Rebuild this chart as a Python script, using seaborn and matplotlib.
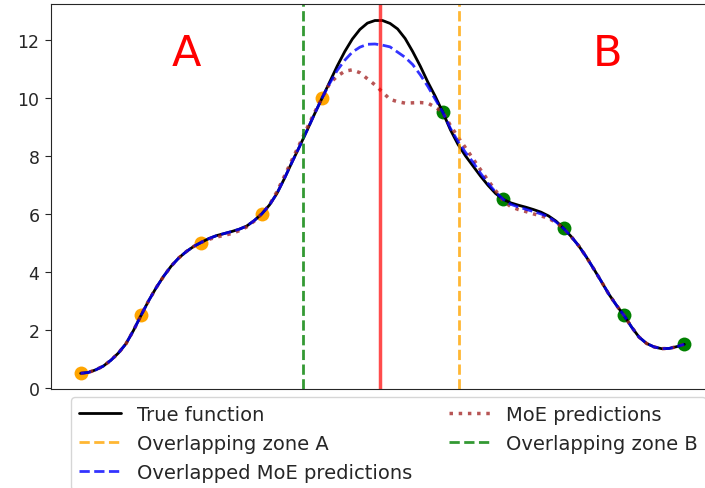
import matplotlib
matplotlib.use("Agg")
import matplotlib.pyplot as plt
import seaborn as sns

# training points of the two experts
x_a = [0, 1, 2, 3, 4]
y_a = [0.5, 2.5, 5.0, 6.0, 10.0]
x_b = [6, 7, 8, 9, 10]
y_b = [9.5, 6.5, 5.5, 2.5, 1.5]

x_grid = [0.0, 0.125, 0.25, 0.375, 0.5, 0.625, 0.75, 0.875,
          1.0, 1.125, 1.25, 1.375, 1.5, 1.625, 1.75, 1.875,
          2.0, 2.125, 2.25, 2.375, 2.5, 2.625, 2.75, 2.875,
          3.0, 3.125, 3.25, 3.375, 3.5, 3.625, 3.75, 3.875,
          4.0, 4.125, 4.25, 4.375, 4.5, 4.625, 4.75, 4.875,
          5.0, 5.125, 5.25, 5.375, 5.5, 5.625, 5.75, 5.875,
          6.0, 6.125, 6.25, 6.375, 6.5, 6.625, 6.75, 6.875,
          7.0, 7.125, 7.25, 7.375, 7.5, 7.625, 7.75, 7.875,
          8.0, 8.125, 8.25, 8.375, 8.5, 8.625, 8.75, 8.875,
          9.0, 9.125, 9.25, 9.375, 9.5, 9.625, 9.75, 9.875,
          10.0]
y_true = [0.50, 0.53, 0.62, 0.75, 0.95, 1.20, 1.52, 1.98,
          2.50, 3.00, 3.45, 3.85, 4.20, 4.48, 4.70, 4.88,
          5.02, 5.15, 5.25, 5.32, 5.39, 5.47, 5.58, 5.77,
          6.00, 6.30, 6.70, 7.22, 7.78, 8.32, 8.88, 9.45,
          10.00, 10.55, 11.10, 11.60, 12.03, 12.36, 12.58, 12.67,
          12.67, 12.57, 12.38, 12.05, 11.60, 11.10, 10.55, 10.05,
          9.50, 8.90, 8.40, 8.00, 7.65, 7.30, 6.98, 6.70,
          6.50, 6.38, 6.30, 6.23, 6.15, 6.06, 5.93, 5.75,
          5.50, 5.22, 4.90, 4.52, 4.10, 3.67, 3.23, 2.85,
          2.50, 2.10, 1.75, 1.53, 1.41, 1.35, 1.36, 1.42,
          1.50]
y_overlap = [0.50, 0.53, 0.62, 0.75, 0.95, 1.20, 1.52, 1.98,
             2.50, 3.00, 3.45, 3.85, 4.20, 4.48, 4.70, 4.88,
             5.02, 5.15, 5.25, 5.32, 5.39, 5.47, 5.58, 5.77,
             6.00, 6.30, 6.70, 7.22, 7.78, 8.32, 8.88, 9.45,
             10.00, 10.50, 10.95, 11.30, 11.58, 11.75, 11.85, 11.86,
             11.82, 11.76, 11.58, 11.40, 11.15, 10.80, 10.40, 9.95,
             9.50, 8.95, 8.50, 8.12, 7.78, 7.40, 7.05, 6.75,
             6.50, 6.33, 6.24, 6.16, 6.08, 6.00, 5.90, 5.72,
             5.50, 5.22, 4.90, 4.52, 4.10, 3.67, 3.23, 2.85,
             2.50, 2.10, 1.75, 1.53, 1.41, 1.35, 1.36, 1.42,
             1.50]
y_moe = [0.50, 0.53, 0.62, 0.75, 0.95, 1.20, 1.52, 1.98,
         2.50, 3.00, 3.45, 3.85, 4.20, 4.48, 4.70, 4.88,
         5.02, 5.12, 5.20, 5.26, 5.32, 5.42, 5.55, 5.75,
         6.00, 6.30, 6.76, 7.30, 7.86, 8.40, 8.96, 9.50,
         10.00, 10.50, 10.75, 10.92, 10.97, 10.87, 10.66, 10.45,
         10.20, 9.95, 9.87, 9.82, 9.83, 9.84, 9.82, 9.68,
         9.50, 9.05, 8.65, 8.28, 7.90, 7.52, 7.15, 6.80,
         6.45, 6.25, 6.15, 6.08, 6.00, 5.93, 5.85, 5.70,
         5.50, 5.22, 4.90, 4.52, 4.10, 3.67, 3.23, 2.85,
         2.50, 2.10, 1.75, 1.53, 1.41, 1.35, 1.36, 1.42,
         1.50]

split_x = 4.96
zone_a = 6.27
zone_b = 3.69

sns.set_style("ticks")
plt.rcParams['font.family'] = ['DejaVu Sans']

fig = plt.figure(figsize=(7.05, 4.89), dpi=100)
ax = fig.add_axes([50.5 / 705, 0.2025, 664 / 705, 0.7873])

sns.lineplot(x=x_grid, y=y_true, color='black', linewidth=2, ax=ax, label='True function')
sns.lineplot(x=x_grid, y=y_moe, color='brown', alpha=0.8, linestyle=':', linewidth=2.5,
             ax=ax, label='MoE predictions')
sns.lineplot(x=x_grid, y=y_overlap, color='blue', alpha=0.8, linestyle='--', linewidth=2,
             ax=ax, label='Overlapped MoE predictions')

sns.scatterplot(x=x_a, y=y_a, color='orange', s=100, linewidth=0, ax=ax, zorder=1)
sns.scatterplot(x=x_b, y=y_b, color='green', s=100, linewidth=0, ax=ax, zorder=1)

ax.axvline(split_x, color='red', alpha=0.7, linewidth=2.5)
ax.axvline(zone_a, color='orange', alpha=0.8, linestyle='--', linewidth=2,
           label='Overlapping zone A')
ax.axvline(zone_b, color='green', alpha=0.8, linestyle='--', linewidth=2,
           label='Overlapping zone B')

ax.text(1.75, 11.55, 'A', color='red', fontsize=31, ha='center', va='center')
ax.text(8.72, 11.55, 'B', color='red', fontsize=31, ha='center', va='center')

ax.set_xlim(-0.5, 10.5)
ax.set_ylim(-0.04, 13.24)
ax.set_xticks([])
ax.set_yticks([0, 2, 4, 6, 8, 10, 12])
ax.tick_params(axis='y', labelsize=12.5, length=4.5)

handles, labels = ax.get_legend_handles_labels()
order = ['True function', 'Overlapping zone A', 'Overlapped MoE predictions',
         'MoE predictions', 'Overlapping zone B']
hmap = dict(zip(labels, handles))
if ax.get_legend():
    ax.get_legend().remove()
fig.legend([hmap[k] for k in order], order, ncol=2, fontsize=14,
           loc='upper left', bbox_to_anchor=(71 / 705, 1 - 398 / 489),
           borderaxespad=0, borderpad=0.42, handlelength=2.15, handletextpad=0.8,
           frameon=True, columnspacing=1.9)

fig.savefig('out.png', dpi=100)
